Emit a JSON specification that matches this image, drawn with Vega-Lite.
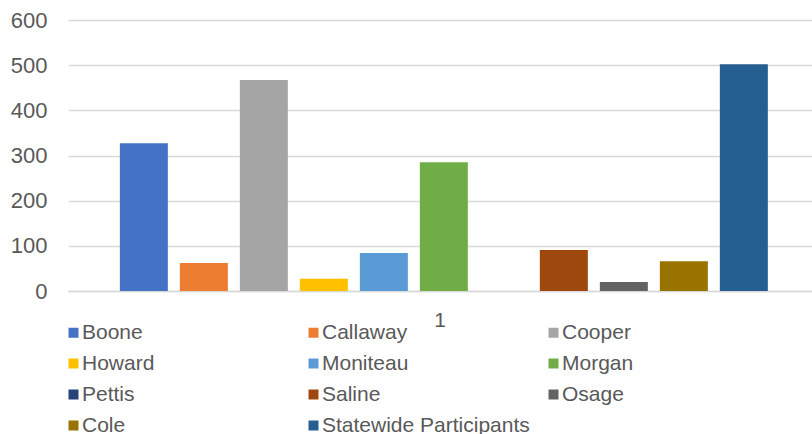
{
  "$schema": "https://vega.github.io/schema/vega-lite/v6.json",
  "width": 744,
  "height": 271,
  "autosize": "none",
  "padding": {"left": 68, "top": 20, "right": 0, "bottom": 143},
  "background": "white",
  "config": {
    "view": {"stroke": null},
    "font": "Liberation Sans"
  },
  "data": {
    "values": [
      {"category": "1", "county": "Boone", "value": 327},
      {"category": "1", "county": "Callaway", "value": 62},
      {"category": "1", "county": "Cooper", "value": 467},
      {"category": "1", "county": "Howard", "value": 27},
      {"category": "1", "county": "Moniteau", "value": 84},
      {"category": "1", "county": "Morgan", "value": 285},
      {"category": "1", "county": "Pettis", "value": 0},
      {"category": "1", "county": "Saline", "value": 91},
      {"category": "1", "county": "Osage", "value": 20},
      {"category": "1", "county": "Cole", "value": 66},
      {"category": "1", "county": "Statewide Participants", "value": 502}
    ]
  },
  "mark": {"type": "bar"},
  "encoding": {
    "x": {
      "field": "category",
      "type": "nominal",
      "scale": {"paddingInner": 0, "paddingOuter": 0},
      "axis": {
        "title": null,
        "labelAngle": 0,
        "labelFontSize": 21,
        "labelColor": "#595959",
        "labelPadding": 18,
        "ticks": false,
        "domain": true,
        "domainColor": "#D9D9D9",
        "domainWidth": 1.5
      }
    },
    "xOffset": {
      "field": "county",
      "type": "nominal",
      "sort": null,
      "scale": {"paddingInner": 0.2, "paddingOuter": 0.8, "align": 0.54}
    },
    "y": {
      "field": "value",
      "type": "quantitative",
      "scale": {"domain": [0, 600], "nice": false},
      "axis": {
        "title": null,
        "values": [0, 100, 200, 300, 400, 500, 600],
        "labelFontSize": 22,
        "labelColor": "#595959",
        "labelPadding": 21,
        "ticks": false,
        "domain": false,
        "grid": true,
        "gridColor": "#D9D9D9",
        "gridWidth": 1.5
      }
    },
    "color": {
      "field": "county",
      "type": "nominal",
      "scale": {
        "domain": ["Boone", "Callaway", "Cooper", "Howard", "Moniteau", "Morgan", "Pettis", "Saline", "Osage", "Cole", "Statewide Participants"],
        "range": ["#4472C4", "#ED7D31", "#A5A5A5", "#FFC000", "#5B9BD5", "#70AD47", "#264478", "#9E480E", "#636363", "#997300", "#255E91"]
      },
      "legend": {
        "title": null,
        "orient": "none",
        "direction": "horizontal",
        "legendX": -5,
        "legendY": 302,
        "padding": 0,
        "columns": 3,
        "gridAlign": "all",
        "columnPadding": 13,
        "rowPadding": 9,
        "symbolType": "square",
        "symbolSize": 100,
        "symbolStrokeWidth": 0,
        "labelOffset": -2,
        "labelFontSize": 21,
        "labelColor": "#595959",
        "labelLimit": 400
      }
    }
  }
}
